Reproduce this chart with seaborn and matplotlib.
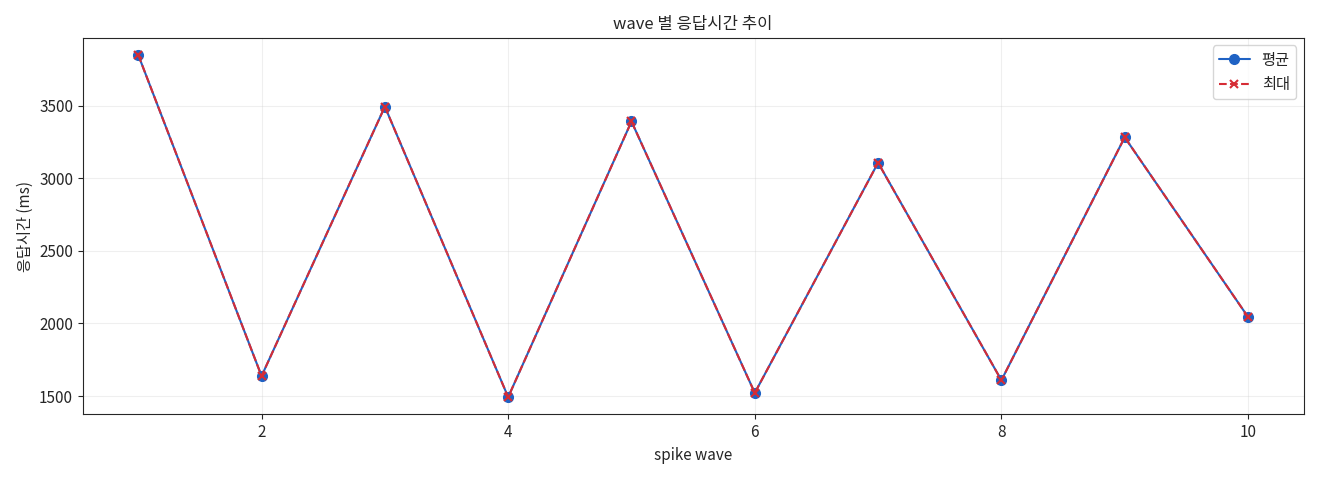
import matplotlib
matplotlib.use("Agg")
import matplotlib.pyplot as plt
import seaborn as sns
import pandas as pd

waves = [1, 2, 3, 4, 5, 6, 7, 8, 9, 10]
avg_ms = [3849, 1638, 3493, 1493, 3391, 1522, 3107, 1609, 3282, 2045]
max_ms = [3849, 1638, 3493, 1493, 3391, 1522, 3107, 1609, 3282, 2045]

sns.set_style("ticks")
plt.rcParams['font.family'] = ['Noto Sans CJK KR', 'DejaVu Sans']
plt.rcParams['axes.unicode_minus'] = False
plt.rcParams['font.size'] = 11

df = pd.DataFrame({"wave": waves, "avg": avg_ms, "max": max_ms})
fig, ax = plt.subplots(figsize=(13.2, 4.8), dpi=100)
sns.lineplot(data=df, x="wave", y="avg", marker="o", color="#1f62c4", label="평균", ax=ax,
             markersize=7, markeredgecolor="#1f62c4", markeredgewidth=1, linewidth=1.5)
sns.lineplot(data=df, x="wave", y="max", marker="x", color="#d62c35", label="최대", ax=ax,
             markersize=6, markeredgecolor="#d62c35", markeredgewidth=1.5, linewidth=1.5)
ax.lines[1].set_linestyle((0, (3.7, 1.6)))
ax.grid(True, alpha=0.3)
ax.set_title("wave 별 응답시간 추이", fontsize=12)
ax.set_xlabel("spike wave")
ax.set_ylabel("응답시간 (ms)")
ax.legend(loc="upper right", handles=ax.lines[:2], labels=["평균", "최대"])
fig.tight_layout()
fig.savefig("out.png")
